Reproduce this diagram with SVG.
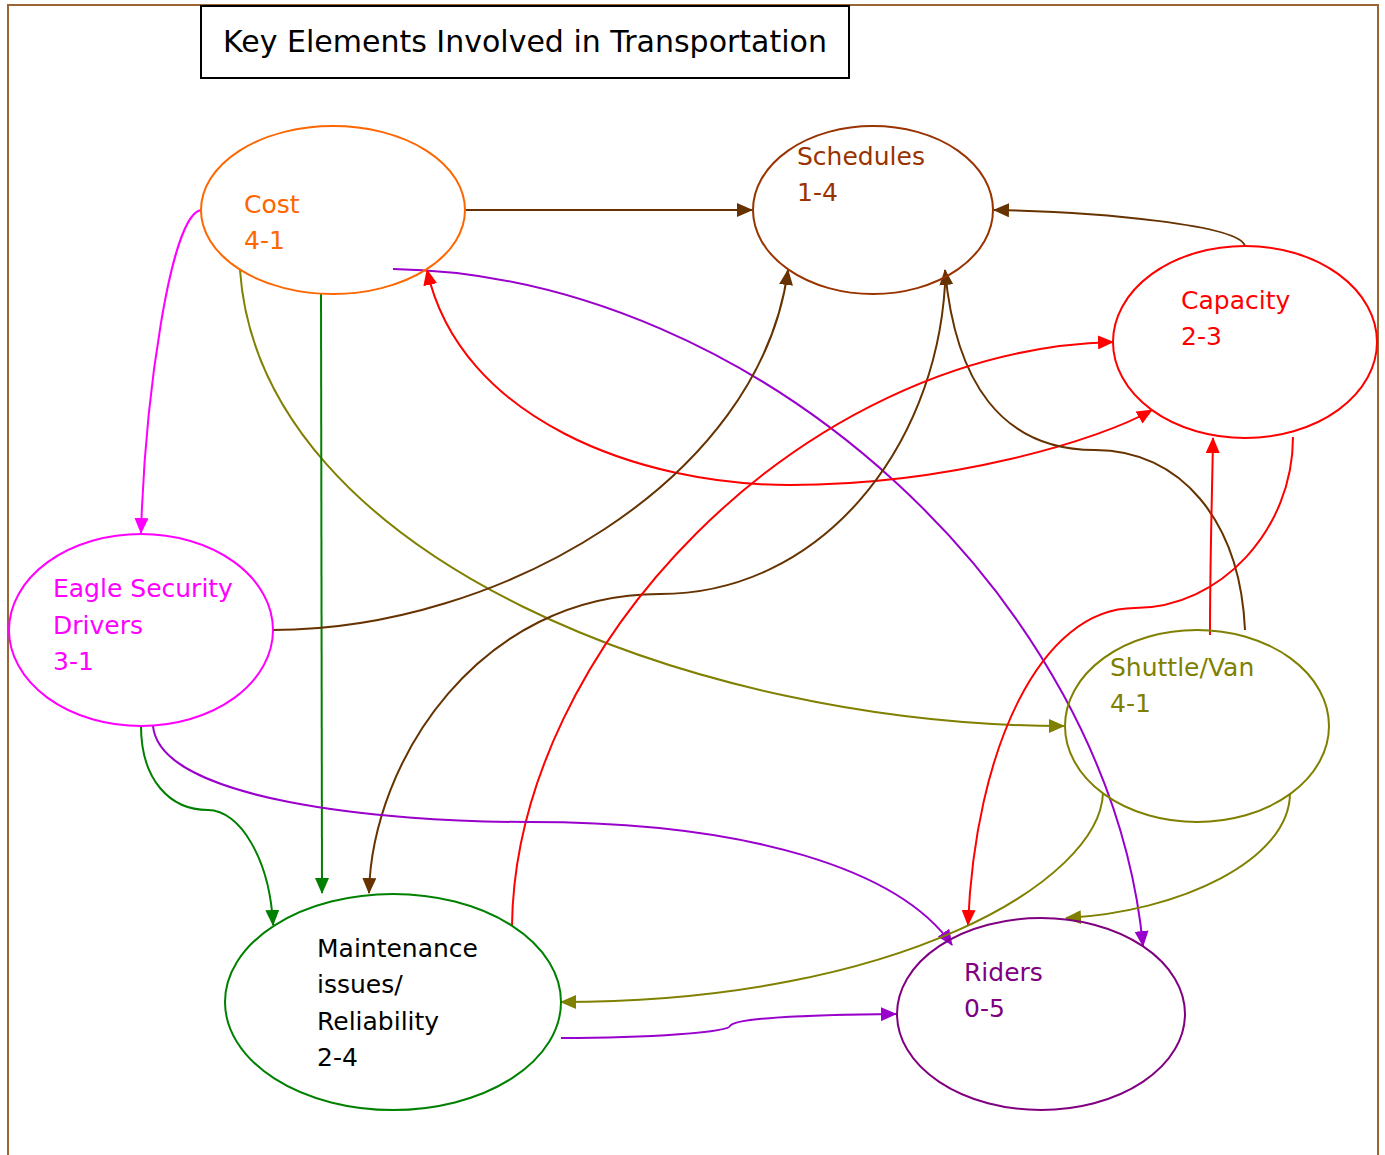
<svg xmlns="http://www.w3.org/2000/svg" width="1385" height="1155" viewBox="0 0 1385 1155">
<defs>
<style>
.t{font-family:"DejaVu Sans","Liberation Sans",sans-serif;font-size:25px}
.e{fill:none;stroke-width:2}
.c{fill:none;stroke-width:2}
</style>
<marker id="aBr" markerUnits="userSpaceOnUse" markerWidth="16" markerHeight="14" refX="15" refY="7" orient="auto-start-reverse"><path d="M0,0 L16,7 L0,14 Z" fill="#663300"/></marker>
<marker id="aRd" markerUnits="userSpaceOnUse" markerWidth="16" markerHeight="14" refX="15" refY="7" orient="auto-start-reverse"><path d="M0,0 L16,7 L0,14 Z" fill="#FF0000"/></marker>
<marker id="aPu" markerUnits="userSpaceOnUse" markerWidth="16" markerHeight="14" refX="15" refY="7" orient="auto-start-reverse"><path d="M0,0 L16,7 L0,14 Z" fill="#9900CC"/></marker>
<marker id="aOl" markerUnits="userSpaceOnUse" markerWidth="16" markerHeight="14" refX="15" refY="7" orient="auto-start-reverse"><path d="M0,0 L16,7 L0,14 Z" fill="#808000"/></marker>
<marker id="aGr" markerUnits="userSpaceOnUse" markerWidth="16" markerHeight="14" refX="15" refY="7" orient="auto-start-reverse"><path d="M0,0 L16,7 L0,14 Z" fill="#008000"/></marker>
<marker id="aMg" markerUnits="userSpaceOnUse" markerWidth="16" markerHeight="14" refX="15" refY="7" orient="auto-start-reverse"><path d="M0,0 L16,7 L0,14 Z" fill="#FF00FF"/></marker>
</defs>
<rect width="1385" height="1155" fill="#fff"/>
<path d="M8,1160 L8,5 L1378,5 L1378,1160" fill="none" stroke="#996633" stroke-width="2"/>
<g id="title">
<rect x="201" y="6" width="648" height="72" fill="#fff" stroke="#000" stroke-width="2"/>
<text x="525" y="52" text-anchor="middle" style="font-family:'DejaVu Sans','Liberation Sans',sans-serif;font-size:30px" fill="#000">Key Elements Involved in Transportation</text>
</g>
<g id="connectors">
<path class="c" stroke="#663300" d="M465,210 L752,210" marker-end="url(#aBr)"/>
<path class="c" stroke="#663300" d="M1245,246 C1240,225 1100,212 994,210" marker-end="url(#aBr)"/>
<path class="c" stroke="#FF00FF" d="M201,210 C170,215 145,400 141,533" marker-end="url(#aMg)"/>
<path class="c" stroke="#9900CC" d="M393,269 C760,275 1110,600 1143,946" marker-end="url(#aPu)"/>
<path class="c" stroke="#808000" d="M240,270 C260,560 700,726 1064,726" marker-end="url(#aOl)"/>
<path class="c" stroke="#008000" d="M321,293 L322,893" marker-end="url(#aGr)"/>
<path class="c" stroke="#FF0000" d="M427,270 C460,420 640,485 790,485 C950,485 1100,440 1152,410" marker-start="url(#aRd)" marker-end="url(#aRd)"/>
<path class="c" stroke="#663300" d="M273,630 C500,630 760,480 788,270" marker-end="url(#aBr)"/>
<path class="c" stroke="#663300" d="M945,285 C935,450 820,594 660,594 C480,594 372,760 369,893" marker-end="url(#aBr)"/>
<path class="c" stroke="#663300" d="M1245,630 C1240,520 1180,450 1095,450 C1000,450 955,380 945,270" marker-end="url(#aBr)"/>
<path class="c" stroke="#FF0000" d="M512,926 C515,650 800,350 1113,342" marker-end="url(#aRd)"/>
<path class="c" stroke="#FF0000" d="M1210,635 C1210,560 1212,500 1213,438" marker-end="url(#aRd)"/>
<path class="c" stroke="#FF0000" d="M1293,437 C1293,530 1220,608 1135,608 C1040,608 975,750 968,925" marker-end="url(#aRd)"/>
<path class="c" stroke="#008000" d="M141,726 C141,780 170,810 208,810 C240,810 270,860 273,925" marker-end="url(#aGr)"/>
<path class="c" stroke="#9900CC" d="M153,726 C160,800 380,822 530,822 C750,822 900,870 952,945" marker-end="url(#aPu)"/>
<path class="c" stroke="#808000" d="M1103,793 C1100,880 900,1002 561,1002" marker-end="url(#aOl)"/>
<path class="c" stroke="#808000" d="M1290,793 C1290,860 1180,912 1066,918" marker-end="url(#aOl)"/>
<path class="c" stroke="#9900CC" d="M561,1038 C650,1038 730,1032 730,1026 C735,1018 800,1015 896,1014" marker-end="url(#aPu)"/>
</g>
<g id="cost">
<ellipse class="e" cx="333" cy="210" rx="132" ry="84" stroke="#FF6600"/>
<text class="t" fill="#FF6600"><tspan x="244" y="213">Cost</tspan><tspan x="244" y="249">4-1</tspan></text>
</g>
<g id="schedules">
<ellipse class="e" cx="873" cy="210" rx="120" ry="84" stroke="#993300"/>
<text class="t" fill="#993300"><tspan x="797" y="165">Schedules</tspan><tspan x="797" y="201">1-4</tspan></text>
</g>
<g id="capacity">
<ellipse class="e" cx="1245" cy="342" rx="132" ry="96" stroke="#FF0000"/>
<text class="t" fill="#FF0000"><tspan x="1181" y="309">Capacity</tspan><tspan x="1181" y="345">2-3</tspan></text>
</g>
<g id="eagle">
<ellipse class="e" cx="141" cy="630" rx="132" ry="96" stroke="#FF00FF"/>
<text class="t" fill="#FF00FF"><tspan x="53" y="597">Eagle Security</tspan><tspan x="53" y="634">Drivers</tspan><tspan x="53" y="670">3-1</tspan></text>
</g>
<g id="shuttle">
<ellipse class="e" cx="1197" cy="726" rx="132" ry="96" stroke="#808000"/>
<text class="t" fill="#808000"><tspan x="1110" y="676">Shuttle/Van</tspan><tspan x="1110" y="712">4-1</tspan></text>
</g>
<g id="maintenance">
<ellipse class="e" cx="393" cy="1002" rx="168" ry="108" stroke="#008000"/>
<text class="t" fill="#000"><tspan x="317" y="957">Maintenance</tspan><tspan x="317" y="993">issues/</tspan><tspan x="317" y="1030">Reliability</tspan><tspan x="317" y="1066">2-4</tspan></text>
</g>
<g id="riders">
<ellipse class="e" cx="1041" cy="1014" rx="144" ry="96" stroke="#800080"/>
<text class="t" fill="#800080"><tspan x="964" y="981">Riders</tspan><tspan x="964" y="1017">0-5</tspan></text>
</g>
</svg>
